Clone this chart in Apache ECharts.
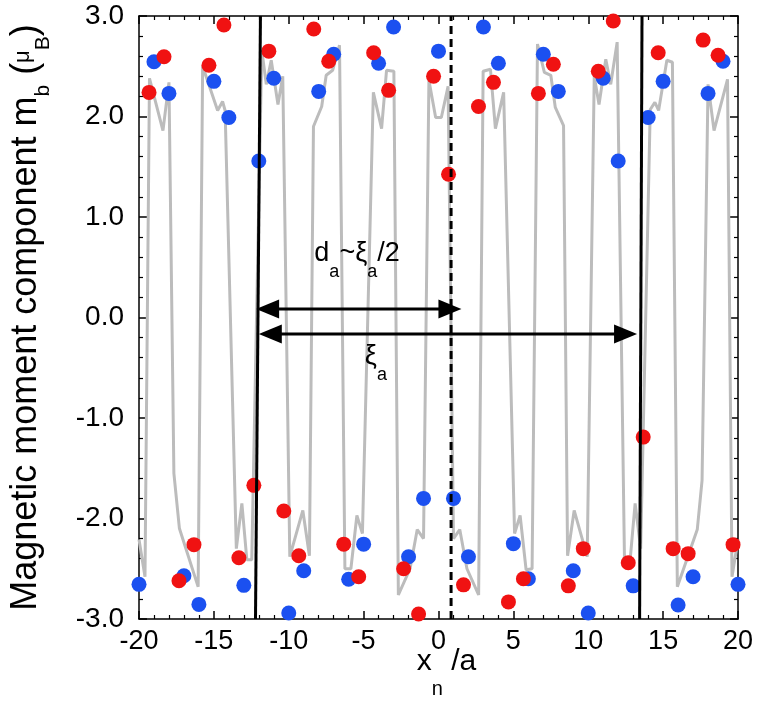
<!DOCTYPE html>
<html><head><meta charset="utf-8">
<script src="https://cdn.jsdelivr.net/npm/echarts/dist/echarts.min.js"></script>
<style>html,body{margin:0;padding:0;background:#fff}#c{width:758px;height:719px}</style>
</head><body><div id="c"></div>
<script>
// ---------- data ----------
const blueX = [-20,-19,-18,-17,-16,-15,-14,-13,-12,-11,-10,-9,-8,-7,-6,-5,-4,-3,-2,-1,0,1,2,3,4,5,6,7,8,9,10,11,12,13,14,15,16,17,18,19,20];
const blueY = [-2.655,2.545,2.23,-2.57,-2.855,2.35,1.99,-2.665,1.557,2.38,-2.94,-2.52,2.25,2.62,-2.605,-2.255,2.53,2.89,-2.38,-1.80,2.65,-1.80,-2.38,2.89,2.53,-2.25,-2.60,2.62,2.25,-2.52,-2.94,2.38,1.557,-2.67,1.99,2.35,-2.86,-2.58,2.23,2.55,-2.655];
const redX = [-19.33,-18.33,-17.33,-16.33,-15.33,-14.33,-13.33,-12.33,-11.33,-10.33,-9.33,-8.33,-7.33,-6.33,-5.33,-4.33,-3.33,-2.33,-1.33,-0.33,0.67,1.67,2.67,3.67,4.67,5.67,6.67,7.67,8.67,9.67,10.67,11.67,12.67,13.67,14.67,15.67,16.67,17.67,18.67,19.67];
const redY = [2.24,2.595,-2.62,-2.26,2.51,2.91,-2.39,-1.67,2.65,-1.925,-2.37,2.87,2.55,-2.255,-2.58,2.635,2.26,-2.50,-2.95,2.40,1.425,-2.66,2.10,2.34,-2.83,-2.60,2.23,2.52,-2.67,-2.30,2.45,2.95,-2.44,-1.19,2.635,-2.30,-2.35,2.76,2.61,-2.26];
const grayX = [-20.0,-19.6,-19.3,-18.4,-18.0,-17.67,-17.3,-16.05,-15.75,-14.75,-14.42,-14.25,-13.5,-13.13,-12.8,-12.47,-11.8,-11.5,-11.17,-10.72,-10.4,-9.93,-9.06,-8.62,-8.35,-7.8,-7.5,-7.07,-6.61,-6.25,-5.85,-5.45,-5.08,-4.35,-3.8,-3.47,-2.98,-2.68,-1.9,-1.42,-1.0,-0.64,-0.19,
  0.19,0.64,1.0,1.42,1.9,2.68,2.98,3.47,3.8,4.35,5.08,5.45,5.85,6.25,6.61,7.07,7.5,7.8,8.35,8.62,9.06,9.93,10.4,10.72,11.17,11.5,11.93,12.42,12.8,13.13,13.5,14.14,14.45,14.7,15.25,15.62,15.95,17.28,17.6,18.0,18.4,19.3,19.6,20.0];
const grayY = [-2.21,-2.58,2.38,1.86,2.34,-1.55,-2.10,-2.68,2.50,2.06,2.15,2.06,-2.30,-1.85,-2.41,-2.41,2.66,2.32,2.56,2.12,2.40,-2.38,-1.92,-2.37,1.90,2.10,2.41,2.46,2.71,-2.50,-2.50,-1.97,-2.15,2.24,1.88,2.46,2.45,-2.76,-2.50,-2.11,-2.20,2.36,1.99,
  1.99,2.30,-2.20,-2.11,-2.50,-2.76,2.45,2.47,1.88,2.24,-2.15,-1.97,-2.51,-2.50,2.72,2.44,2.41,2.09,1.91,-2.37,-1.92,-2.38,2.40,2.12,2.57,2.32,2.74,-2.41,-2.41,-1.85,-2.30,2.07,2.14,2.06,2.56,2.54,-2.68,-2.11,-1.62,2.32,1.86,2.37,-2.58,-2.21];
const xTickLabels = [-20,-15,-10,-5,0,5,10,15,20];
const yTickLabels = ['-3.0','-2.0','-1.0','0.0','1.0','2.0','3.0'];
const leftWallX = [-12.22,-11.89];
const rightWallX = [13.43,13.59];
const centerX = [0.84,0.84];
const wallY = [-3,3];
const shortArrowX = [-12.18,1.53];
const shortArrowY = 0.085;
const longArrowX = [-12.0,13.26];
const longArrowY = -0.164;

// ---------- chart ----------
const FONT = '"Liberation Sans", Arial, Helvetica, sans-serif';
const chart = echarts.init(document.getElementById('c'), null, {renderer:'canvas'});
const zip = (a,b)=>a.map((v,i)=>[v,b[i]]);
const axisCommon = (extra)=>Object.assign({
  type:'value', splitLine:{show:false},
  axisLine:{show:true,onZero:false,lineStyle:{color:'#000',width:1.5}},
  axisTick:{show:true,inside:true,length:8,lineStyle:{color:'#000',width:1.5}},
  minorTick:{show:true,splitNumber:5,length:4,lineStyle:{color:'#000',width:1.2}},
  nameMoveOverlap:false
}, extra);
const xLab = {show:true,fontSize:27,color:'#000',fontFamily:FONT,margin:9,
  formatter:v=>xTickLabels.includes(v)?String(v):''};
const yLab = {show:true,fontSize:28,color:'#000',fontFamily:FONT,margin:15,
  formatter:v=>{const s=v.toFixed(1);return yTickLabels.includes(s)?s:'';}};

const option = {
  animation:false,
  backgroundColor:'#fff',
  grid:{left:136,right:20,top:16,bottom:100,containLabel:false},
  xAxis:[
    axisCommon({min:-20,max:20,interval:5,position:'bottom',axisLabel:xLab,
      name:'{p|x}{s|n}{m| /a}',nameLocation:'middle',nameGap:28,
      nameTextStyle:{fontFamily:FONT,color:'#000',rich:{
        p:{fontSize:30,lineHeight:30,verticalAlign:'top',fontFamily:FONT,color:'#000',padding:[0,0,0,16]},
        m:{fontSize:30,lineHeight:30,verticalAlign:'top',fontFamily:FONT,color:'#000'},
        s:{fontSize:20,lineHeight:52,verticalAlign:'bottom',fontFamily:FONT,color:'#000'}}}}),
    axisCommon({min:-20,max:20,interval:5,position:'top',axisLabel:{show:false}})
  ],
  yAxis:[
    axisCommon({min:-3,max:3,interval:1,position:'left',axisLabel:yLab,
      name:'{m|Magnetic moment component m}{s|b}{m| (}{mu|μ}{s|B}{m|)}',
      nameLocation:'middle',nameRotate:90,nameGap:85,
      nameTextStyle:{fontFamily:FONT,color:'#000',rich:{
        m:{fontSize:36,lineHeight:36,verticalAlign:'top',fontFamily:FONT,color:'#000'},
        s:{fontSize:21,lineHeight:46,verticalAlign:'bottom',fontFamily:FONT,color:'#000'},
        mu:{fontSize:22,lineHeight:30,verticalAlign:'top',fontFamily:FONT,color:'#000',padding:[4,0,0,0]}}}}),
    axisCommon({min:-3,max:3,interval:1,position:'right',axisLabel:{show:false}})
  ],
  series:[
    {type:'line',data:zip(grayX,grayY),showSymbol:false,symbol:'none',
      lineStyle:{color:'#bcbcbc',width:3},z:1,silent:true},
    {type:'scatter',data:zip(blueX,blueY),symbol:'circle',symbolSize:15,
      itemStyle:{color:'#1b50f0',opacity:1},z:2},
    {type:'scatter',data:zip(redX,redY),symbol:'circle',symbolSize:15,
      itemStyle:{color:'#f01212',opacity:1},z:3},
    {type:'line',data:zip(leftWallX,wallY),showSymbol:false,symbol:'none',
      lineStyle:{color:'#000',width:3},z:5},
    {type:'line',data:zip(rightWallX,wallY),showSymbol:false,symbol:'none',
      lineStyle:{color:'#000',width:3},z:5},
    {type:'line',data:zip(centerX,wallY),showSymbol:false,symbol:'none',
      lineStyle:{color:'#000',width:3,type:[8,5]},z:5}
  ]
};
chart.setOption(option);

// ---------- annotations positioned through the axes ----------
const P = (x,y)=>chart.convertToPixel({xAxisIndex:0,yAxisIndex:0},[x,y]);
const g = [];
function arrow(xs,y){
  const a=P(xs[0],y), b=P(xs[1],y); const L=23,H=9.5;
  g.push({type:'line',shape:{x1:a[0]+L-2,y1:a[1],x2:b[0]-L+2,y2:b[1]},style:{stroke:'#000',lineWidth:3},z:100});
  g.push({type:'polygon',shape:{points:[[a[0],a[1]],[a[0]+L,a[1]-H],[a[0]+L,a[1]+H]]},style:{fill:'#000'},z:100});
  g.push({type:'polygon',shape:{points:[[b[0],b[1]],[b[0]-L,b[1]-H],[b[0]-L,b[1]+H]]},style:{fill:'#000'},z:100});
}
arrow(shortArrowX,shortArrowY);
arrow(longArrowX,longArrowY);
const rich = {
  m:{fontSize:27,lineHeight:27,verticalAlign:'top',fontFamily:FONT,fill:'#000'},
  s:{fontSize:18,lineHeight:41,verticalAlign:'bottom',fontFamily:FONT,fill:'#000'}
};
const t1 = P(-8.29,0.771);
g.push({type:'text',x:t1[0],y:t1[1],z:100,style:{text:'{m|d}{s|a}{m|~ξ}{s|a}{m|/2}',rich:rich,align:'left',verticalAlign:'top',fill:'#000',font:'27px '+FONT}});
const t2 = P(-4.92,-0.254);
g.push({type:'text',x:t2[0],y:t2[1],z:100,style:{text:'{m|ξ}{s|a}',rich:rich,align:'left',verticalAlign:'top',fill:'#000',font:'27px '+FONT}});
chart.setOption({graphic:{elements:g}});
</script></body></html>
